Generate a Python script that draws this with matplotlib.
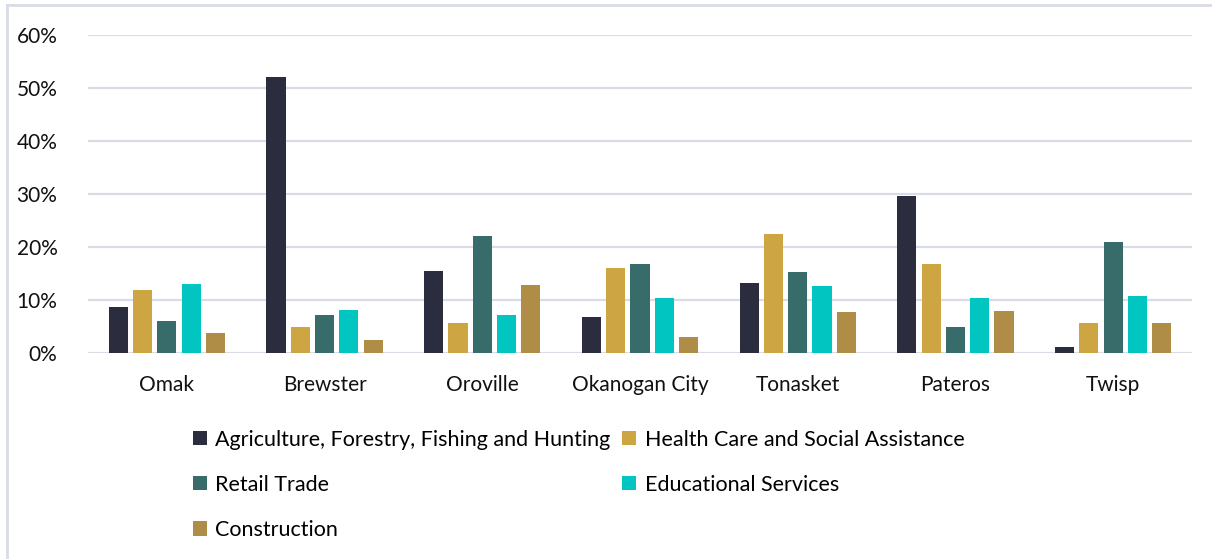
import numpy as np
import matplotlib.pyplot as plt
from matplotlib.lines import Line2D

plt.rcParams['font.family'] = ['Lato', 'DejaVu Sans']

towns = ["Omak", "Brewster", "Oroville", "Okanogan City", "Tonasket", "Pateros", "Twisp"]
industries = ["Agriculture, Forestry, Fishing and Hunting",
              "Health Care and Social Assistance",
              "Retail Trade",
              "Educational Services",
              "Construction"]
agriculture = [8.6, 52.1, 15.5, 6.7, 13.3, 29.7, 1.1]
health_care = [11.8, 4.9, 5.7, 16.0, 22.5, 16.7, 5.7]
retail = [6.0, 7.2, 22.1, 16.7, 15.2, 5.0, 21.0]
education = [13.0, 8.2, 7.2, 10.3, 12.7, 10.4, 10.7]
construction = [3.8, 2.45, 12.9, 3.0, 7.7, 8.0, 5.7]
colors = ["#2B2D3F", "#CDA542", "#376C6B", "#00C5C0", "#B08D46"]

series = [agriculture, health_care, retail, education, construction]

fig = plt.figure(figsize=(12.12, 5.59), dpi=100)
ax = fig.add_axes([88/1212, 1-353/559, 1104/1212, 318/559])

x = np.arange(len(towns))
slot = 0.154
bars = []
for i, vals in enumerate(series):
    b = ax.bar(x + (i-2)*slot, vals, width=0.122, color=colors[i],
               label=industries[i], zorder=3)
    bars.append(b)

ax.set_xlim(-0.5, len(towns)-0.5)
ax.set_ylim(0, 60)
ax.set_yticks(range(0, 61, 10))
ax.set_yticklabels([f"{v}%" for v in range(0, 61, 10)])
ax.set_xticks(x)
ax.set_xticklabels(towns)
ax.grid(axis='y', color='#D9DCE6', linewidth=1.6, zorder=0)
for s in ax.spines.values():
    s.set_visible(False)
ax.tick_params(axis='both', length=0, labelsize=15, colors='#111111')
ax.tick_params(axis='y', pad=22)
ax.tick_params(axis='x', pad=16)

# frame lines left over from the page
fig.add_artist(Line2D([7/1212, 7/1212], [0, 1-5/559], color='#D9DCE6', linewidth=2))
fig.add_artist(Line2D([7/1212, 1], [1-5/559, 1-5/559], color='#D9DCE6', linewidth=2))

# legend fills row by row like the original, so reorder for matplotlib's column fill
order = [0, 2, 4, 1, 3]
fig.legend([bars[i] for i in order], [industries[i] for i in order],
           loc='upper left', bbox_to_anchor=(184/1212, 1-421/559), ncol=2,
           frameon=False, fontsize=15.5, handlelength=0.65, handleheight=0.65,
           handletextpad=0.4, labelspacing=1.17, columnspacing=0.55,
           borderaxespad=0)

fig.savefig("out.png", dpi=100)
